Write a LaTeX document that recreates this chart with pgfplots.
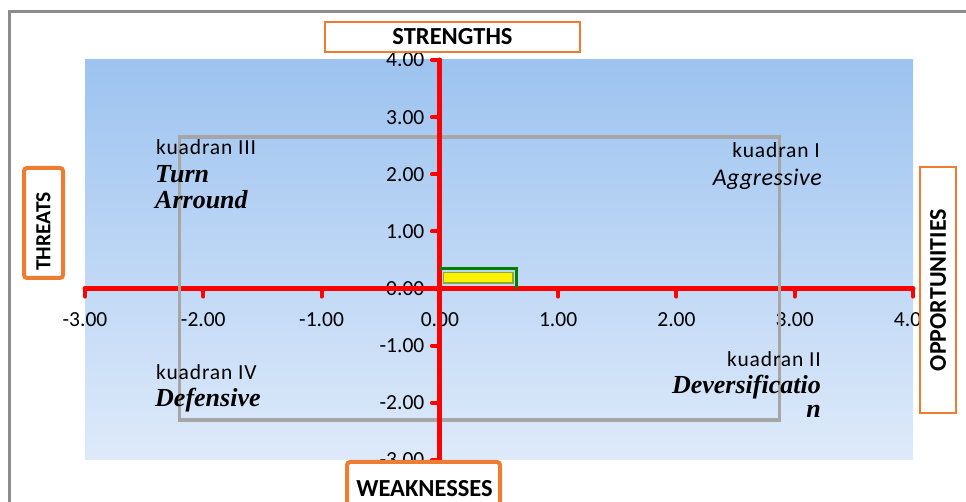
\documentclass[border=0pt]{standalone}
\usepackage{pgfplots}
\pgfplotsset{compat=1.18}
\usepackage{fontspec}
\setmainfont{Carlito}
\newfontfamily\quadfont{Liberation Serif}
\newfontfamily\kfont[LetterSpace=4]{Carlito}
\newfontfamily\afont[LetterSpace=2]{Carlito}
\definecolor{bgtop}{RGB}{157,195,240}
\definecolor{bgbot}{RGB}{222,234,250}
\definecolor{rgray}{RGB}{166,166,166}
\definecolor{fgray}{RGB}{140,140,140}
\definecolor{orng}{RGB}{237,125,49}
\definecolor{dgreen}{RGB}{0,128,0}
\definecolor{olv}{RGB}{140,170,60}
\pgfdeclareplotmark{dtick}{\pgfpathmoveto{\pgfpoint{0pt}{0pt}}\pgfpathlineto{\pgfpoint{0pt}{-8pt}}\pgfusepathqstroke}
\pgfdeclareplotmark{ltick}{\pgfpathmoveto{\pgfpoint{0pt}{0pt}}\pgfpathlineto{\pgfpoint{-8pt}{0pt}}\pgfusepathqstroke}
\begin{document}
\begin{tikzpicture}
\path[use as bounding box] (0pt,0pt) rectangle (966pt,502pt);
\draw[fgray, line width=3pt] (9pt,-20pt) -- (9pt,490pt) -- (990pt,490pt);
\begin{axis}[
  at={(85pt,42pt)}, anchor=south west,
  scale only axis, width=828pt, height=400pt,
  xmin=-3, xmax=4, ymin=-3, ymax=4,
  axis lines=middle,
  axis line style={-, red, line width=5pt},
  axis background/.style={top color=bgtop, bottom color=bgbot},
  xtick={-3,-2,-1,0,1,2,3,4},
  ytick={-3,-2,-1,0,1,2,3,4},
  major tick length=0pt,
  hide obscured x ticks=false,
  hide obscured y ticks=false,
  /pgf/number format/.cd, fixed, fixed zerofill, precision=2, assume math mode=true,
  /pgfplots/.cd,
  ticklabel style={font=\fontsize{21.5}{24}\selectfont},
  xticklabel style={anchor=center, yshift=-31pt},
  yticklabel style={anchor=east, xshift=-12pt},
  clip=false,
]
\addplot[only marks, mark=dtick, red, mark options={line width=4pt, line cap=round}] coordinates {(-3,0) (-2,0) (-1,0) (0,0) (1,0) (2,0) (3,0) (4,0)};
\addplot[only marks, mark=ltick, red, mark options={line width=4pt, line cap=round}] coordinates {(0,-3) (0,-2) (0,-1) (0,0) (0,1) (0,2) (0,3) (0,4)};
\addplot[red, line width=5pt, line cap=round] coordinates {(-3,0) (4,0)};
\addplot[draw=rgray, line width=3.5pt, line join=miter] coordinates {(-2.2,-2.3) (-2.2,2.65) (2.87,2.65) (2.87,-2.3)} -- cycle;
\addplot[red, line width=5pt, line cap=round] coordinates {(0,-3) (0,4)};
\addplot[draw=dgreen, line width=3pt] coordinates {(0,0.35) (0.65,0.35) (0.65,0)};
\addplot[fill=yellow, draw=olv, line width=1.5pt] coordinates {(0.03,0.1) (0.62,0.1) (0.62,0.28) (0.03,0.28)} -- cycle;
\end{axis}
% axis title boxes
\node[draw=orng, fill=white, line width=1.5pt, minimum width=255pt, minimum height=30pt, inner sep=0pt,
  font=\fontsize{24.5}{26}\selectfont\bfseries] at (452.5pt,465pt) {STRENGTHS};
\node[draw=orng, fill=white, line width=4pt, rounded corners=3pt, minimum width=110pt, minimum height=39pt, inner sep=0pt,
  rotate=90] at (43.5pt,279pt) {};
\node[rotate=90, font=\fontsize{21.5}{24}\selectfont\bfseries] at (43.5pt,270.5pt) {THREATS};
\node[draw=orng, fill=white, line width=1.5pt, minimum width=246pt, minimum height=36pt, inner sep=0pt,
  rotate=90, font=\fontsize{24}{26}\selectfont\bfseries] at (938pt,212pt) {OPPORTUNITIES};
\node[draw=orng, fill=white, line width=4pt, rounded corners=3pt, minimum width=153pt, minimum height=50pt, inner sep=0pt] at (423.5pt,15pt) {};
\node[font=\fontsize{24.5}{26}\selectfont\bfseries] at (424.5pt,13pt) {WEAKNESSES};
% quadrant labels
\node[anchor=base west, inner sep=0pt, font=\kfont\fontsize{21.5}{24}\selectfont] at (156pt,347pt) {kuadran III};
\node[anchor=base west, inner sep=0pt, font=\quadfont\bfseries\itshape\fontsize{26}{28}\selectfont] at (155pt,319pt) {Turn};
\node[anchor=base west, inner sep=0pt, font=\quadfont\bfseries\itshape\fontsize{26}{28}\selectfont] at (155pt,293pt) {Arround};
\node[anchor=base east, inner sep=0pt, font=\kfont\fontsize{21.5}{24}\selectfont] at (820pt,344pt) {kuadran I};
\node[anchor=base east, inner sep=0pt, font=\afont\itshape\fontsize{24}{26}\selectfont] at (822pt,316pt) {Aggressive};
\node[anchor=base west, inner sep=0pt, font=\kfont\fontsize{21.5}{24}\selectfont] at (156pt,122pt) {kuadran IV};
\node[anchor=base west, inner sep=0pt, font=\quadfont\bfseries\itshape\fontsize{26}{28}\selectfont] at (155pt,95pt) {Defensive};
\node[anchor=base east, inner sep=0pt, font=\kfont\fontsize{21.5}{24}\selectfont] at (821pt,135pt) {kuadran II};
\node[anchor=base east, inner sep=0pt, font=\quadfont\bfseries\itshape\fontsize{26}{28}\selectfont] at (821pt,108pt) {Deversificatio};
\node[anchor=base east, inner sep=0pt, font=\quadfont\bfseries\itshape\fontsize{26}{28}\selectfont] at (821pt,84pt) {n};
\end{tikzpicture}
\end{document}
